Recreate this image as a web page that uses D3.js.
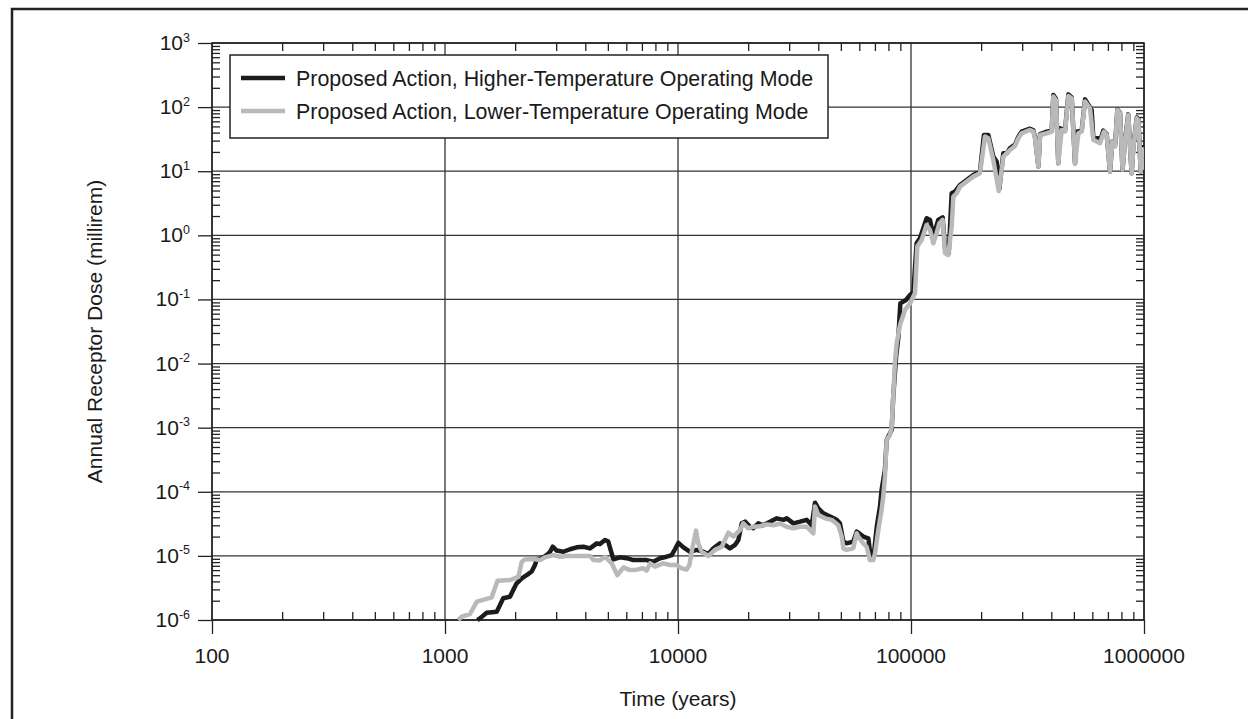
<!DOCTYPE html>
<html><head><meta charset="utf-8">
<script src="https://cdn.jsdelivr.net/npm/d3@7"></script>
<style>
body{margin:0;background:#fff;}
svg{display:block;}
text{font-family:"Liberation Sans",Arial,Helvetica,sans-serif;fill:#1a1a1a;}
</style>
</head><body>
<svg id="chart" width="1248" height="719"></svg>
<script>
// ---------------- data ----------------
const xTickValues = [100, 1000, 10000, 100000, 1000000];
const xTickLabels = ["100", "1000", "10000", "100000", "1000000"];
const yTickExponents = [3, 2, 1, 0, -1, -2, -3, -4, -5, -6];
const seriesNames = [
  "Proposed Action, Higher-Temperature Operating Mode",
  "Proposed Action, Lower-Temperature Operating Mode"
];
const xTitle = "Time (years)";
const yTitle = "Annual Receptor Dose (millirem)";

// Higher-temperature mode (black)
const higherTime = [1377,1413,1510,1667,1722,1778,1900,1963,2030,2135,2242,2355,2433,2475,2600,2730,2825,2900,3015,3220,3440,3675,3925,4190,4480,4625,4860,5020,5280,5640,6025,6430,6870,7340,7840,8375,8940,9395,9705,10040,10550,11270,12030,12850,13490,14190,15150,15920,16710,17570,18150,18770,19400,20390,21040,22120,23230,24830,26540,28330,29300,31270,33420,35660,37500,38730,40010,42050,44950,47970,49550,51260,52960,56500,58440,60400,62400,65600,67100,69300,71300,73600,74800,77300,78600,82600,83900,86300,88300,90000,95100,99100,102400,105700,109300,116700,120700,124700,130900,136700,140400,145200,149500,154500,162300,173300,185000,197700,205600,214700,225500,233300,239300,249000,257600,266300,279500,289000,298400,324300,334900,340600,352200,358100,382300,401700,408300,419000,428700,436500,458200,473600,489400,505800,514000,540400,558500,596000,606200,637000,647500,668700,691500,714700,731400,738000,751600,768600,789000,809000,828000,856000,885000,900000,931000,946000,968000,985000,1000000];
const higherDose = [1.0e-6,1.06e-6,1.3e-6,1.35e-6,1.71e-6,2.18e-6,2.31e-6,2.94e-6,3.73e-6,4.47e-6,5.0e-6,5.7e-6,7.2e-6,8.8e-6,9.2e-6,1.03e-5,1.16e-5,1.39e-5,1.21e-5,1.16e-5,1.27e-5,1.36e-5,1.39e-5,1.31e-5,1.57e-5,1.53e-5,1.77e-5,1.67e-5,8.8e-6,9.5e-6,9.2e-6,8.6e-6,8.6e-6,8.6e-6,8.1e-6,9.2e-6,9.7e-6,1.03e-5,1.27e-5,1.6e-5,1.36e-5,1.16e-5,1.24e-5,1.16e-5,1.07e-5,1.31e-5,1.57e-5,1.48e-5,1.31e-5,1.48e-5,1.77e-5,3.22e-5,3.42e-5,2.85e-5,2.7e-5,3.22e-5,3.0e-5,3.42e-5,3.85e-5,3.65e-5,3.85e-5,3.22e-5,3.42e-5,3.65e-5,3.0e-5,6.76e-5,5.5e-5,4.6e-5,4.1e-5,3.65e-5,3.22e-5,1.67e-5,1.57e-5,1.67e-5,2.39e-5,2.2e-5,2.0e-5,1.88e-5,9.7e-6,1.07e-5,2.86e-5,5.86e-5,1.07e-4,2.19e-4,6.4e-4,9.2e-4,3.05e-3,1.28e-2,2.63e-2,8.7e-2,9.8e-2,0.117,0.132,0.75,0.9,1.85,1.74,0.955,1.74,1.91,0.557,0.525,4.53,4.81,6.11,7.31,8.75,9.86,36.8,36.8,16.9,14.1,5.3,19.1,19.1,23,26,34.5,41.5,46,43.5,34,11.8,38,41.5,43,155,135,13.3,46.8,43,158,142,13.3,41.5,43,132,90,32.7,32.7,29,43,38,9.86,29,27.3,25.5,92,82,10.5,29,77,9.29,24,69,65,9.86,23.7,22];

// Lower-temperature mode (gray)
const lowerTime = [1140,1180,1280,1370,1485,1585,1680,1900,2065,2135,2205,2395,2560,2685,2915,3120,3330,3555,3925,4190,4335,4625,4860,5190,5495,5830,6225,6655,7100,7340,7590,7965,8650,9245,9865,10370,10890,11190,11560,11950,12220,12640,13490,14420,15410,16450,17290,18460,19070,20040,21040,22490,24040,25650,27400,29250,31270,33420,35660,38110,38730,40010,42760,45670,48770,50420,51260,52960,56500,58440,59400,62400,64500,66650,68860,70100,72400,74800,76000,77300,78600,81300,82600,83900,85300,86800,89700,94200,99100,104000,106400,111100,116700,120700,124700,128800,132300,136700,140000,144600,149500,152000,157000,162300,173300,185000,197700,207800,214700,225500,238000,249300,266300,279500,289000,298400,324300,334900,340600,352200,358100,382300,401700,408300,419000,428700,443300,458200,473600,489400,505800,522800,540400,558500,586500,606200,626500,647500,673600,691500,714700,731400,751600,768600,789000,809000,828000,856000,885000,900000,931000,946000,968000,985000,1000000];
const lowerDose = [1.0e-6,1.13e-6,1.24e-6,1.93e-6,2.1e-6,2.25e-6,4.1e-6,4.2e-6,4.7e-6,8.1e-6,8.8e-6,8.95e-6,8.6e-6,9.5e-6,1.03e-5,9.7e-6,9.95e-6,9.95e-6,9.95e-6,1.0e-5,8.6e-6,8.5e-6,9.7e-6,7.65e-6,5.0e-6,6.6e-6,6.0e-6,6.1e-6,6.4e-6,5.9e-6,7.65e-6,6.8e-6,7.65e-6,7.2e-6,7.2e-6,6.4e-6,6.1e-6,7.2e-6,1.39e-5,2.48e-5,1.57e-5,1.16e-5,9.95e-6,1.24e-5,1.39e-5,2.3e-5,2.0e-5,2.54e-5,3.22e-5,2.69e-5,2.85e-5,2.9e-5,3.1e-5,3.0e-5,3.2e-5,2.85e-5,2.7e-5,2.85e-5,2.85e-5,2.25e-5,5.9e-5,4.35e-5,3.85e-5,3.65e-5,3.0e-5,2.0e-5,1.31e-5,1.24e-5,1.31e-5,2.25e-5,2.0e-5,1.57e-5,1.39e-5,8.6e-6,8.6e-6,1.1e-5,2.54e-5,5.2e-5,8.4e-5,1.72e-4,6.4e-4,7.7e-4,1.04e-3,3.05e-3,1.0e-2,2.07e-2,4.0e-2,6.85e-2,8.7e-2,0.125,0.667,0.847,1.45,1.21,0.75,1.08,1.54,1.74,0.525,0.494,1.37,4.02,4.53,5.75,6.89,8.24,9.29,34.7,32.7,15.0,4.9,16.9,21.5,24.8,32.7,39.1,44.1,41.5,32.7,11.8,36.8,39.1,41.5,146,129,13.3,44.1,41.5,149,137,13.3,39.1,41.5,122,95.9,30.8,29,27.3,41.5,36.8,9.86,29,24.2,90.4,80.2,10.5,27.3,75.5,9.29,22.8,67,63,9.86,22,10.5];

// ---------------- drawing ----------------
const svg = d3.select("#chart");
const W = 1248, H = 719;
const plot = {left: 212, right: 1144, top: 43, bottom: 620};

const x = d3.scaleLog().domain([100, 1e6]).range([plot.left, plot.right]);
const y = d3.scaleLog().domain([1e-6, 1e3]).range([plot.bottom, plot.top]);

// outer frame
svg.append("rect").attr("x", 12).attr("y", 9).attr("width", W).attr("height", H)
  .attr("fill", "none").attr("stroke", "#222").attr("stroke-width", 2.5);

const ink = "#222";

// minor tick values
const xMinor = [], yMinor = [];
for (let d = 100; d < 1e6; d *= 10) for (let k = 2; k <= 9; k++) xMinor.push(k * d);
for (let e = -6; e < 3; e++) for (let k = 2; k <= 9; k++) yMinor.push(k * Math.pow(10, e));
const yMajor = yTickExponents.map(e => Math.pow(10, e));

// grid
const grid = svg.append("g");
grid.selectAll("line.h").data(yMajor).join("line")
  .attr("x1", plot.left).attr("x2", plot.right)
  .attr("y1", d => y(d)).attr("y2", d => y(d))
  .attr("stroke", "#333").attr("stroke-width", 1.3);
grid.selectAll("line.v").data(xTickValues).join("line")
  .attr("y1", plot.top).attr("y2", plot.bottom)
  .attr("x1", d => x(d)).attr("x2", d => x(d))
  .attr("stroke", "#333").attr("stroke-width", 1.3);

function styleAxis(g) {
  g.select(".domain").remove();
  g.selectAll(".tick line").attr("stroke", ink).attr("stroke-width", 1.3);
  g.selectAll(".tick text").remove();
}

// minor ticks on all four sides (pointing inward)
svg.append("g").attr("transform", `translate(0,${plot.bottom})`)
  .call(d3.axisBottom(x).tickValues(xMinor).tickSize(-8).tickFormat("")).call(styleAxis);
svg.append("g").attr("transform", `translate(0,${plot.top})`)
  .call(d3.axisTop(x).tickValues(xMinor).tickSize(-8).tickFormat("")).call(styleAxis);
svg.append("g").attr("transform", `translate(${plot.left},0)`)
  .call(d3.axisLeft(y).tickValues(yMinor).tickSize(-8).tickFormat("")).call(styleAxis);
svg.append("g").attr("transform", `translate(${plot.right},0)`)
  .call(d3.axisRight(y).tickValues(yMinor).tickSize(-8).tickFormat("")).call(styleAxis);

// major ticks pointing outward (bottom and left)
svg.append("g").attr("transform", `translate(0,${plot.bottom})`)
  .call(d3.axisBottom(x).tickValues(xTickValues).tickSize(14).tickFormat("")).call(styleAxis);
svg.append("g").attr("transform", `translate(${plot.left},0)`)
  .call(d3.axisLeft(y).tickValues(yMajor).tickSize(14).tickFormat("")).call(styleAxis);

// plot frame
svg.append("rect").attr("x", plot.left).attr("y", plot.top)
  .attr("width", plot.right - plot.left).attr("height", plot.bottom - plot.top)
  .attr("fill", "none").attr("stroke", ink).attr("stroke-width", 1.5);

// x tick labels
svg.append("g").selectAll("text").data(xTickValues).join("text")
  .attr("x", d => x(d)).attr("y", plot.bottom + 43)
  .attr("text-anchor", "middle").style("font-size", "21px")
  .text((d, i) => xTickLabels[i]);

// y tick labels with superscripts
const yl = svg.append("g");
yTickExponents.forEach(e => {
  const t = yl.append("text").attr("x", 190).attr("y", y(Math.pow(10, e)) + 7)
    .attr("text-anchor", "end").style("font-size", "21px");
  t.append("tspan").text("10");
  t.append("tspan").attr("dy", -8.5).style("font-size", "12.5px").text(String(e));
});

// axis titles
svg.append("text").attr("x", (plot.left + plot.right) / 2).attr("y", 706)
  .attr("text-anchor", "middle").style("font-size", "21px").text(xTitle);
svg.append("text").attr("transform", `translate(102,${(plot.top + plot.bottom) / 2}) rotate(-90)`)
  .attr("text-anchor", "middle").style("font-size", "21px").text(yTitle);

// clip
svg.append("clipPath").attr("id", "clip").append("rect")
  .attr("x", plot.left).attr("y", plot.top)
  .attr("width", plot.right - plot.left).attr("height", plot.bottom - plot.top + 2);

const line = d3.line().x(d => x(d[0])).y(d => y(d[1]));
const higher = higherTime.map((t, i) => [t, higherDose[i]]);
const lower = lowerTime.map((t, i) => [t, lowerDose[i]]);
const colors = ["#1c1c1c", "#b9b9b9"];

const dg = svg.append("g").attr("clip-path", "url(#clip)");
dg.append("path").datum(higher).attr("d", line)
  .attr("fill", "none").attr("stroke", colors[0]).attr("stroke-width", 4.5).attr("stroke-linejoin", "round");
dg.append("path").datum(lower).attr("d", line)
  .attr("fill", "none").attr("stroke", colors[1]).attr("stroke-width", 4.5).attr("stroke-linejoin", "round");

// legend
const lg = svg.append("g");
lg.append("rect").attr("x", 230).attr("y", 55).attr("width", 598).attr("height", 83)
  .attr("fill", "#fff").attr("stroke", ink).attr("stroke-width", 1.5);
seriesNames.forEach((name, i) => {
  const yy = 78 + i * 33;
  lg.append("line").attr("x1", 241).attr("x2", 285).attr("y1", yy).attr("y2", yy)
    .attr("stroke", colors[i]).attr("stroke-width", 4.5);
  lg.append("text").attr("x", 296).attr("y", yy + 7.5).style("font-size", "21.4px").text(name);
});
</script>
</body></html>
